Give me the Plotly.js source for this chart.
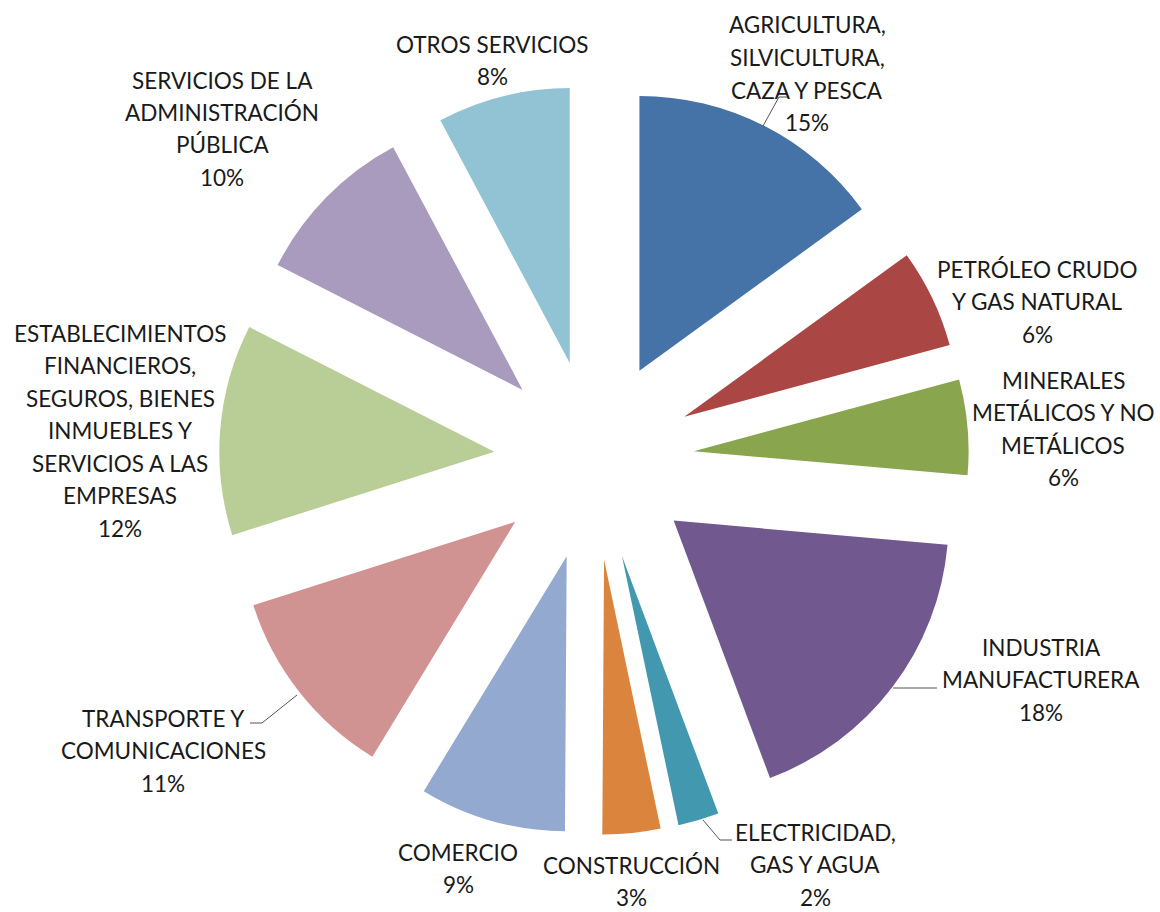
<!DOCTYPE html>
<html>
<head>
<meta charset="utf-8">
<script src="https://cdn.plot.ly/plotly-3.0.1.min.js"></script>
<style>
  html, body { margin: 0; padding: 0; background: #ffffff; }
  #chart { width: 1160px; height: 912px; }
</style>
</head>
<body>
<div id="chart"></div>
<script>
// ---- data ----
const categories = [
  "AGRICULTURA,\nSILVICULTURA,\nCAZA Y PESCA",
  "PETRÓLEO CRUDO\nY GAS NATURAL",
  "MINERALES\nMETÁLICOS Y NO\nMETÁLICOS",
  "INDUSTRIA\nMANUFACTURERA",
  "ELECTRICIDAD,\nGAS Y AGUA",
  "CONSTRUCCIÓN",
  "COMERCIO",
  "TRANSPORTE Y\nCOMUNICACIONES",
  "ESTABLECIMIENTOS\nFINANCIEROS,\nSEGUROS, BIENES\nINMUEBLES Y\nSERVICIOS A LAS\nEMPRESAS",
  "SERVICIOS DE LA\nADMINISTRACIÓN\nPÚBLICA",
  "OTROS SERVICIOS"
];
const shares = [15.0, 5.8, 5.6, 17.9, 2.4, 3.4, 8.6, 11.4, 12.4, 9.7, 7.8];

// ---- styles / positions (not data) ----
const colors = ["#4572A7", "#AA4643", "#89A54E", "#71588F", "#4198AF", "#DB843D",
                "#93A9CF", "#D19392", "#B9CD96", "#A99BBD", "#92C3D4"];
const labelX  = [807, 1037, 1063, 1041, 815, 631, 458, 163, 120, 222, 492];
const labelY0 = [25, 269, 380, 647, 832, 865, 852, 718, 333, 80, 44];
const lineStep = 32.5;
const leaders = [
  [[789, 97], [779, 97], [763, 126]],
  [[893, 688], [937, 688]],
  [[703, 820], [720, 840], [732, 840]],
  [[297, 695], [262, 723], [250, 723]]
];

const W = 1160, H = 912;
const M = {l: 28, r: 0, t: 85, b: 77};
const PW = W - M.l - M.r, PH = H - M.t - M.b;
const px = x => (x - M.l) / PW;
const py = y => 1 - (y - M.t) / PH;

const FONT = "Lato, 'Liberation Sans', Arial, sans-serif";

const total = shares.reduce((a, b) => a + b, 0);
const annotations = [];
categories.forEach((cat, i) => {
  const lines = cat.split("\n").concat([Math.round(shares[i] / total * 100) + "%"]);
  lines.forEach((ln, k) => {
    annotations.push({
      xref: "paper", yref: "paper",
      x: px(labelX[i]), y: py(labelY0[i] + k * lineStep),
      xanchor: "center", yanchor: "middle",
      text: ln, showarrow: false,
      font: {family: FONT, size: 22.5, color: "#1a1a1a"}
    });
  });
});

const shapes = leaders.map(pts => ({
  type: "path", xref: "paper", yref: "paper",
  path: pts.map((p, k) => (k ? "L" : "M") + px(p[0]) + "," + py(p[1])).join(" "),
  line: {color: "#555555", width: 1}
}));

const trace = {
  type: "pie",
  labels: categories.map(c => c.replace(/\n/g, " ")),
  values: shares,
  sort: false,
  direction: "clockwise",
  rotation: 0,
  pull: shares.map(() => 0.364),
  textinfo: "none",
  hoverinfo: "label+percent",
  marker: {colors: colors, line: {width: 0}},
  showlegend: false
};

Plotly.newPlot("chart", [trace], {
  width: W, height: H,
  margin: M,
  paper_bgcolor: "#ffffff",
  plot_bgcolor: "#ffffff",
  showlegend: false,
  annotations: annotations,
  shapes: shapes
}, {displayModeBar: false, staticPlot: true});
</script>
</body>
</html>
